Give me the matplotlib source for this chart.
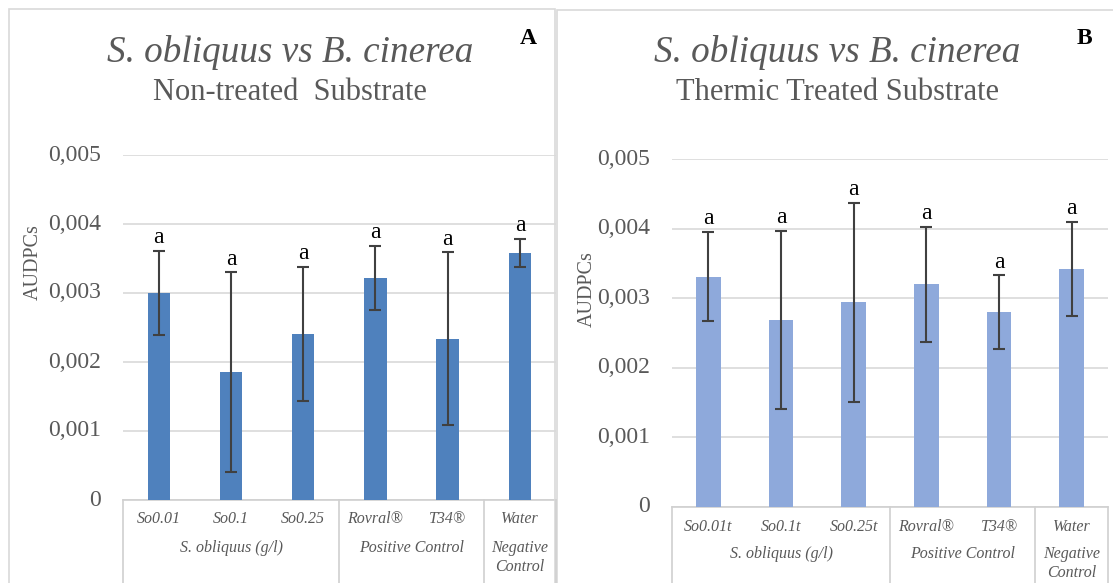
import matplotlib
matplotlib.use("Agg")
import matplotlib.pyplot as plt
from matplotlib.patches import Rectangle
from matplotlib.lines import Line2D

# ---------------- data ----------------
cats_a = ["So0.01", "So0.1", "So0.25", "Rovral®", "T34®", "Water"]
vals_a = [0.00300, 0.00185, 0.00241, 0.00322, 0.00234, 0.00358]
errs_a = [0.00061, 0.00145, 0.00097, 0.00046, 0.00125, 0.00020]

cats_b = ["So0.01t", "So0.1t", "So0.25t", "Rovral®", "T34®", "Water"]
vals_b = [0.00331, 0.00269, 0.00294, 0.00320, 0.00280, 0.00342]
errs_b = [0.00064, 0.00128, 0.00143, 0.00083, 0.00053, 0.00068]

letters_a = ["a", "a", "a", "a", "a", "a"]
letters_b = ["a", "a", "a", "a", "a", "a"]

groups = ["S. obliquus (g/l)", "Positive Control", "Negative\nControl"]
group_spans = [(0, 3), (3, 5), (5, 6)]

yticks = [0, 0.001, 0.002, 0.003, 0.004, 0.005]
ytick_labels = ["0", "0,001", "0,002", "0,003", "0,004", "0,005"]

W, H = 1113, 583
fig = plt.figure(figsize=(W / 100, H / 100), dpi=100)
fig.patch.set_facecolor("white")

SERIF = ["Liberation Serif", "DejaVu Serif"]
GRAY = "#595959"


def fx(x):
    return x / W


def fy(y):
    return 1 - y / H


# panel borders
for (x0, y0, x1, y1) in [(9, 9, 555, 590), (557, 10, 1120, 590)]:
    fig.patches.append(Rectangle((fx(x0), fy(y1)), fx(x1) - fx(x0), fy(y0) - fy(y1),
                                 transform=fig.transFigure, fill=False,
                                 edgecolor="#D9D9D9", linewidth=1.2))


def panel(left, right, y0, y5, cats, vals, errs, letters, color, bw,
          lab_y, grp_y, title1, title2, tx, ty1, ty2, letter, lx, ly,
          ylab_x, ylab_y, tick_x):
    ax = fig.add_axes([fx(left), fy(y0), fx(right) - fx(left), fy(y5) - fy(y0)])
    n = len(cats)
    xs = list(range(n))
    ax.bar(xs, vals, width=bw, color=color, zorder=3)
    ax.errorbar(xs, vals, yerr=errs, fmt="none", ecolor="#404040",
                elinewidth=1.5, capsize=4.5, capthick=1.5, zorder=4)
    for x, v, e, l in zip(xs, vals, errs, letters):
        ax.annotate(l, xy=(x, v + e), xytext=(0, 2), textcoords="offset points",
                    ha="center", va="bottom", fontsize=17, family=SERIF,
                    color="black")
    ax.set_xlim(-0.5, n - 0.5)
    ax.set_ylim(0, 0.005)
    ax.set_yticks(yticks)
    ax.set_yticklabels([])
    ax.yaxis.grid(True, color="#D9D9D9", linewidth=1.2, zorder=0)
    ax.set_axisbelow(True)
    ax.tick_params(axis="both", length=0)
    ax.set_xticks([])
    for s in ["top", "right", "left"]:
        ax.spines[s].set_visible(False)
    ax.spines["bottom"].set_color("#D0D0D0")
    ax.spines["bottom"].set_linewidth(1.2)
    ax.set_facecolor("none")

    # y tick labels
    for t, lab in zip(yticks, ytick_labels):
        ytp = y0 + (y5 - y0) * t / 0.005
        fig.text(fx(tick_x), fy(ytp), lab, ha="right", va="center",
                 fontsize=17, family=SERIF, color=GRAY)

    # multi-level category axis
    step = (right - left) / n
    for i, c in enumerate(cats):
        cx = left + step * (i + 0.5)
        fig.text(fx(cx), fy(lab_y), c, ha="center", va="center", fontsize=11.5,
                 family=SERIF, style="italic", color=GRAY)
    bounds = sorted(set([a for a, b in group_spans] + [b for a, b in group_spans]))
    for b in bounds:
        bx = left + step * b
        fig.add_artist(Line2D([fx(bx), fx(bx)], [fy(y0), fy(590)],
                              transform=fig.transFigure, color="#D0D0D0",
                              linewidth=1.2))
    for g, (a, b) in zip(groups, group_spans):
        cx = left + step * (a + b) / 2
        fig.text(fx(cx), fy(grp_y), g, ha="center", va="top", fontsize=11.5,
                 family=SERIF, style="italic", color=GRAY, linespacing=1.25)

    # titles
    fig.text(fx(tx), fy(ty1), title1, ha="center", va="center", fontsize=26.7,
             family=SERIF, style="italic", color=GRAY)
    fig.text(fx(tx), fy(ty2), title2, ha="center", va="center", fontsize=22,
             family=SERIF, color=GRAY)
    fig.text(fx(lx), fy(ly), letter, ha="center", va="center", fontsize=17,
             family=SERIF, weight="bold", color="black")
    fig.text(fx(ylab_x), fy(ylab_y), "AUDPCs", ha="center", va="center",
             rotation=90, fontsize=14.5, family=SERIF, color=GRAY)
    return ax


panel(122.7, 556, 500, 155, cats_a, vals_a, errs_a, letters_a, "#4F81BD", 0.31,
      519, 540, "S. obliquus vs B. cinerea", "Non-treated  Substrate",
      290, 52, 92, "A", 528, 39, 33, 262, 101)

panel(672, 1108, 506.7, 159.3, cats_b, vals_b, errs_b, letters_b, "#8EA9DB", 0.34,
      527, 546, "S. obliquus vs B. cinerea", "Thermic Treated Substrate",
      837, 52, 93, "B", 1084, 39, 587, 289, 650)

fig.savefig("out.png", dpi=100, facecolor="white")
